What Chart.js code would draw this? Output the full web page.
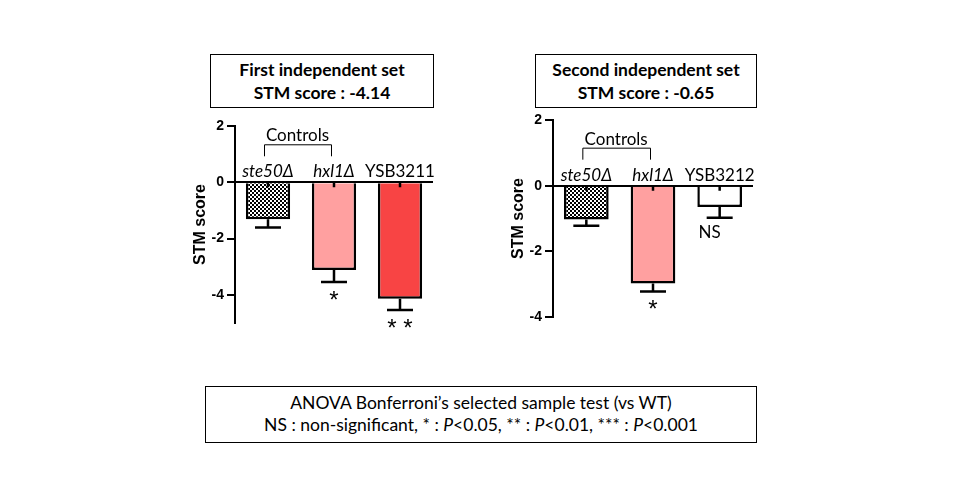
<!DOCTYPE html>
<html>
<head>
<meta charset="utf-8">
<script src="https://cdn.jsdelivr.net/npm/chart.js@4.4.1/dist/chart.umd.min.js"></script>
<style>
  body { margin: 0; background: #fff; width: 960px; height: 500px; position: relative; overflow: hidden; }
  .box { position: absolute; box-sizing: border-box; border: 1px solid #000; text-align: center; font-family: Lato, "Open Sans", sans-serif; color: #000; }
  .title { font-weight: bold; font-size: 17.5px; line-height: 23px; padding-top: 3px; }
  .note { font-size: 17.5px; line-height: 22px; padding-top: 5px; }
  canvas { position: absolute; }
</style>
</head>
<body>
<div class="box title" style="left:210px; top:54px; width:224px; height:54px;">First independent set<br>STM score : -4.14</div>
<div class="box title" style="left:535px; top:54px; width:222px; height:54px;">Second independent set<br>STM score : -0.65</div>
<div class="box note" style="left:205px; top:386px; width:552px; height:57px;">ANOVA Bonferroni’s selected sample test (vs WT)<br>NS : non-significant, * : <i>P</i>&lt;0.05, ** : <i>P</i>&lt;0.01, *** : <i>P</i>&lt;0.001</div>
<canvas id="set1" width="270" height="225" style="left:178px; top:110px;"></canvas>
<canvas id="set2" width="270" height="225" style="left:496px; top:104px;"></canvas>
<script>
// first set
const strains1 = ['ste50Δ', 'hxl1Δ', 'YSB3211'];
const scores1 = [-1.31, -3.12, -4.14];
const sem1 = [0.30, 0.42, 0.40];
const marks1 = ['', '*', '**'];

// second set
const strains2 = ['ste50Δ', 'hxl1Δ', 'YSB3212'];
const scores2 = [-1.03, -2.98, -0.65];
const sem2 = [0.19, 0.24, 0.33];
const marks2 = ['', '*', 'NS'];

const italicName = [true, true, false];
const yTicks = [2, 0, -2, -4];

// checkerboard fill for the ste50 bar
function checker() {
  const c = document.createElement('canvas');
  c.width = 4; c.height = 4;
  const g = c.getContext('2d');
  g.fillStyle = '#fff';
  g.fillRect(0, 0, 4, 4);
  g.fillStyle = '#000';
  g.fillRect(0, 0, 2, 2);
  g.fillRect(2, 2, 2, 2);
  return g.createPattern(c, 'repeat');
}

const annotate = {
  id: 'annotate',
  afterDatasetsDraw: (chart, args, opts) => {
    const {ctx} = chart;
    const x = chart.scales.x;
    const y = chart.scales.y;
    const y0 = y.getPixelForValue(0);
    ctx.save();
    ctx.strokeStyle = '#000';
    ctx.fillStyle = '#000';
    ctx.lineWidth = 2.5;
    opts.scores.forEach((v, i) => {
      const cx = x.getPixelForValue(i);
      const yb = y.getPixelForValue(v);
      const ye = y.getPixelForValue(v - opts.sem[i]);
      ctx.beginPath();
      ctx.moveTo(cx, yb); ctx.lineTo(cx, ye);
      ctx.moveTo(cx - 13, ye); ctx.lineTo(cx + 13, ye);
      ctx.moveTo(cx, y0); ctx.lineTo(cx, y0 + 5);
      ctx.stroke();

      // strain name above the zero line
      ctx.font = (italicName[i] ? 'italic ' : '') + '17px Lato';
      ctx.textAlign = 'center';
      ctx.textBaseline = 'alphabetic';
      ctx.fillText(opts.names[i], cx, y0 - 5);

      // significance
      const m = opts.marks[i];
      if (m === 'NS') {
        ctx.font = '17px Lato';
        ctx.textBaseline = 'middle';
        ctx.fillText(m, cx - 10, ye + 15);
      } else if (m) {
        ctx.font = '24px "Liberation Sans"';
        ctx.textBaseline = 'middle';
        ctx.fillText(m.split('').join(' '), cx, ye + 19);
      }
    });

    // Controls bracket over the two deletion strains
    const xa = x.getPixelForValue(0) - 4;
    const xb = x.getPixelForValue(1) - 3;
    const yt = y0 - 38;
    ctx.lineWidth = 1;
    ctx.beginPath();
    ctx.moveTo(xa + 0.5, yt + 12); ctx.lineTo(xa + 0.5, yt + 0.5);
    ctx.lineTo(xb + 0.5, yt + 0.5); ctx.lineTo(xb + 0.5, yt + 12);
    ctx.stroke();
    ctx.font = '17px Lato';
    ctx.textBaseline = 'alphabetic';
    ctx.fillText('Controls', (xa + xb) / 2, yt - 3);
    ctx.restore();
  }
};

function makeChart(id, names, scores, sem, marks, yMin, padRight, colors) {
  return new Chart(document.getElementById(id), {
    type: 'bar',
    data: {
      labels: names,
      datasets: [{
        data: scores,
        backgroundColor: colors,
        borderColor: '#000',
        borderWidth: 2.5,
        borderSkipped: 'start',
        barPercentage: 0.67,
        categoryPercentage: 1
      }]
    },
    options: {
      responsive: false,
      animation: false,
      layout: { padding: { top: 16, right: padRight, bottom: 12, left: 0 } },
      scales: {
        x: { display: false },
        y: {
          min: yMin,
          max: 2,
          afterBuildTicks: (s) => { s.ticks = yTicks.map(v => ({ value: v })); },
          afterFit: (s) => { s.width = 57; },
          border: { display: true, color: '#000', width: 2 },
          grid: {
            color: (c) => (c.tick && c.tick.value === 0 ? '#000' : 'rgba(0,0,0,0)'),
            lineWidth: 2,
            tickColor: '#000',
            tickLength: 8
          },
          ticks: {
            color: '#000',
            padding: 3,
            font: { family: 'Liberation Sans', size: 14, weight: 'bold' }
          },
          title: {
            display: true,
            text: 'STM score',
            color: '#000',
            padding: { top: 13, bottom: 0 },
            font: { family: 'Liberation Sans', size: 16, weight: 'bold' }
          }
        }
      },
      plugins: {
        legend: { display: false },
        tooltip: { enabled: false },
        annotate: { names: names, scores: scores, sem: sem, marks: marks }
      }
    },
    plugins: [annotate]
  });
}

const pattern = checker();
makeChart('set1', strains1, scores1, sem1, marks1, -5, 15, [pattern, '#ffa0a0', '#f84444']);
makeChart('set2', strains2, scores2, sem2, marks2, -4, 13, [pattern, '#ffa0a0', '#ffffff']);
</script>
</body>
</html>
